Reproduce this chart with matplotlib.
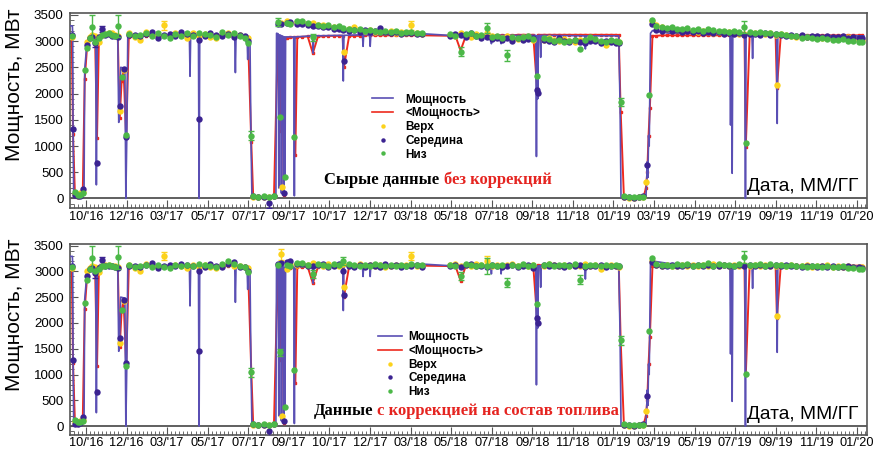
import numpy as np
import matplotlib
matplotlib.use("Agg")
import matplotlib.pyplot as plt
from matplotlib.lines import Line2D
from matplotlib.ticker import MultipleLocator, FixedLocator

plt.rcParams['font.family'] = ['Liberation Sans', 'DejaVu Sans']

n = np.nan

# Axis labels (labelled ticks are evenly spaced in time)
tick_labels = ["10/'16", "12/'16", "03/'17", "05/'17", "07/'17", "09/'17", "10/'17",
               "12/'17", "03/'18", "05/'18", "07/'18", "09/'18", "11/'18", "01/'19",
               "03/'19", "05/'19", "07/'19", "09/'19", "11/'19", "01/'20"]
tick_step = 62.6  # days between labelled ticks

# Measurement days (days after the 10/'16 tick)
day = [-22, -20,
       -17, -13, -9, -5,
       -2, 2, 6,
       10, 14, 17, 20, 25, 30, 35, 40, 45, 49, 52, 55, 58, 62, 66,
       75, 84, 93, 102, 111, 120, 129, 138, 147, 156, 165, 174, 175, 183, 192, 201, 210, 219, 228, 237, 246, 250, 255,
       258, 266, 274, 282, 290,
       296, 299, 301, 303, 305, 307, 310, 315, 321, 323, 326,
       334, 342, 350, 358, 366, 374, 382, 390, 396, 398, 406, 414, 422, 430, 438, 446, 454, 462, 470, 478, 486, 494, 502, 510, 518,
       562, 570, 578, 586, 594, 602, 610, 618, 626, 634, 642, 650, 658, 666, 674, 682, 690, 696, 698, 706,
       714, 722, 730, 738, 746, 754, 762, 770, 778, 786, 794, 802, 810, 818, 822, 825,
       830, 838, 846, 854, 860, 864, 866, 868, 870,
       874, 880, 888, 896, 904, 912, 920, 928, 936, 944, 952, 960, 968, 976, 984, 992, 1000, 1008, 1016, 1018,
       1024, 1032, 1040, 1048, 1056, 1064, 1066, 1072, 1080, 1088, 1096, 1104, 1112, 1120, 1128, 1136, 1144, 1152, 1160, 1168,
       1176, 1184, 1192, 1198]

# <Мощность> (daily average), MW
avg_power = [3080, 1220,
             40, 30, 40, 110,
             2270, 2950, 3080,
             3090, 3080, 1160, 3100, 3100, 3110, 3110, 3110, 3110, 3100, 1530, 2240, 2430, 1160, 3080,
             3090, 3100, 3100, 3100, 3100, 3100, 3100, 3110, 3110, 3110, 3110, 3110, 3110, 3110, 3110, 3110, 3110, 3110, 3100, 3100, 3090, 3080, 1070,
             20, 20, 20, 20, 30,
             3090, 1290, 3080, 3060, 60, 3060, 3060, 3070, 3070, 830, 3080,
             3080, 3090, 2770, 3090, 3090, 3100, 3100, 3100, 3100, 2510, 3100, 3100, 3100, 3110, 3110, 3110, 3110, 3110, 3110, 3110, 3110, 3110, 3110, 3110, 3110,
             3100, 3100, 2820, 3100, 3110, 3110, 3110, 3110, 3110, 3110, 3110, 3110, 3110, 3120, 3120, 3120, 3120, 2100, 3120, 3120,
             3120, 3120, 3120, 3120, 3120, 3120, 3120, 3120, 3120, 3120, 3120, 3120, 3120, 3120, 3110, 1650,
             10, 10, 10, 10, 20, 200, 500, 1200, 1720,
             3100, 3100, 3110, 3110, 3110, 3110, 3110, 3110, 3110, 3110, 3110, 3110, 3110, 3110, 3110, 3110, 3110, 3110, 3110, 985,
             3110, 3110, 3110, 3110, 3110, 3110, 2100, 3110, 3110, 3110, 3110, 3110, 3110, 3110, 3110, 3110, 3110, 3110, 3110, 3110,
             3110, 3110, 3110, 3110]

# Raw data (top panel)
verh_raw = [3080, n,
            90, 50, 100, 120,
            n, 2990, 3080,
            3110, 3090, n, 2980, 3120, 3140, 3160, 3150, 3120, 3100, 1660, n, 2440, n, 3150,
            3080, 3020, 3170, 3120, 3090, 3300, 3110, 3150, 3120, 3060, 3150, 3100, n, 3130, 3080, 3060, 3120, 3160, 3100, 3120, 3080, 3050, n,
            20, 30, 20, 30, 40,
            n, n, 3350, 210, n, n, 3380, 3350, n, n, 3370,
            3360, 3320, 3340, 3300, 3310, 3280, 3260, 3250, 3240, 2800, 3230, 3260, 3210, 3200, 3220, 3180, 3190, 3170, 3200, 3160, 3170, 3150, 3300, 3160, 3140,
            3120, 3090, 3150, 3100, 3080, 3130, 3090, 3150, 3100, 3080, 3050, 3090, 3060, 3040, 3070, 3050, 3030, n, n, 3020,
            3060, 3030, 3000, 3040, 3010, 2990, 3030, 3000, 3050, 3020, 2980, 2930, 3000, 2980, 2990, n,
            20, 10, 10, 20, 30, 320, n, n, n,
            3380, 3300, 3260, 3240, 3230, 3210, 3200, 3220, 3190, 3180, 3200, 3170, 3160, 3180, 3150, 3170, 3150, 3140, 3130, n,
            3160, 3150, 3140, 3130, 3150, 3120, 2160, 3130, 3120, 3100, 3080, 3090, 3070, 3080, 3050, 3060, 3070, 3040, 3060, 3050,
            3080, 3040, 3030, 3030]
mid_raw = [3110, 1330,
           60, 40, 50, 180,
           n, 2920, 3060,
           3080, 2960, 680, 3080, 3230, 3110, 3130, 3100, 3090, 3080, 1770, n, 2470, 1170, 3120,
           3110, 3090, 3130, 3180, 3060, 3120, 3140, 3100, 3170, 3130, 3120, 3020, 1510, 3100, 3150, 3110, 3090, 3140, 3080, 3110, 3090, 3010, n,
           40, 20, 30, -80, 50,
           3330, n, 3320, n, 100, n, 3340, 3360, n, n, 3330,
           3330, 3300, 3290, 3280, 3260, 3270, 3240, 3230, 3220, 2620, 3200, 3210, 3180, 3220, 3170, 3190, 3250, 3180, 3150, 3170, 3140, 3160, 3150, 3140, 3130,
           3090, 3130, 3110, 3070, 3150, 3100, 3060, 3080, 3040, 3050, 3030, 3060, 3000, 3050, 3020, 3040, 3060, 2060, 2010, 3030,
           3000, 2990, 3050, 3010, 2980, 3020, 2990, 2970, 3010, 3000, 2960, 3000, 2980, 2970, 2960, n,
           30, 20, 10, 20, 40, n, 630, n, n,
           3330, 3220, 3200, 3230, 3190, 3210, 3180, 3200, 3170, 3190, 3160, 3180, 3150, 3170, 3140, 3160, 3130, 3150, 3120, n,
           3140, 3130, 3110, 3150, 3120, 3130, n, 3110, 3100, 3120, 3090, 3110, 3080, 3100, 3090, 3070, 3090, 3080, 3070, 3090,
           3060, 3080, 3060, 3050]
niz_raw = [3090, n,
           125, 70, 60, 100,
           2440, 2860, 3050,
           3270, 2990, n, 3050, 3110, 3130, 3150, 3120, 3100, 3290, n, 2310, n, 1210, 3130,
           3100, 3110, 3150, 3100, 3150, 3090, 3060, 3130, 3100, 3160, 3100, 3150, n, 3140, 3120, 3080, 3170, 3110, 3150, 3090, 3060, 2960, 1200,
           50, 30, 40, 30, 50,
           3360, 1550, n, n, n, 400, 3350, 3330, 1180, n, 3380,
           3380, 3340, 3070, 3310, 3290, 3300, 3270, 3280, 3250, n, 3240, 3220, 3230, 3200, 3210, 3190, 3170, 3200, 3180, 3190, 3160, 3170, 3180, 3150, 3150,
           3140, 3100, 2800, 3130, 3150, 3100, 3120, 3250, 3080, 3100, 3060, 2730, 3080, 3050, 3070, 3090, 3040, 2330, n, 3060,
           3040, 3010, 3030, 2980, 3000, 3020, 2850, 3020, 3070, 3040, 3010, 2990, 3030, 3000, 2990, 1840,
           40, 30, 20, 20, 30, n, n, 1980, n,
           3400, 3280, 3270, 3250, 3260, 3240, 3230, 3250, 3220, 3240, 3200, 3230, 3210, 3190, 3200, 3180, 3190, 3170, 3270, 1050,
           3170, 3160, 3180, 3150, 3160, 3140, n, 3140, 3110, 3100, 3090, 3060, 3080, 3050, 3040, 3060, 3040, 3020, 3030, 3040,
           3010, 3000, 2990, 2990]

# Fuel-composition corrected data (bottom panel)
verh_corr = [3060, n,
             80, 60, 100, 110,
             n, 3000, 3070,
             3100, 3080, n, 2990, 3110, 3120, 3130, 3110, 3100, 3090, 1620, n, 2420, n, 3130,
             3060, 3000, 3150, 3110, 3080, 3290, 3100, 3130, 3110, 3060, 3130, 3090, n, 3120, 3080, 3070, 3110, 3140, 3100, 3110, 3090, 3060, n,
             20, 30, 20, 30, 40,
             n, n, 3330, 190, n, n, 3050, 3150, n, n, 3120,
             3150, 3120, 3160, 3130, 3100, 3140, 3120, 3110, 3150, 2690, 3120, 3100, 3140, 3110, 3130, 3100, 3120, 3090, 3110, 3130, 3100, 3120, 3300, 3110, 3100,
             3120, 3140, 3110, 3130, 3100, 3150, 3120, 3200, 3110, 3130, 3100, 3120, 3140, 3110, 3130, 3100, 3120, n, n, 3110,
             3140, 3120, 3100, 3130, 3110, 3120, 3100, 3140, 3110, 3130, 3040, 3100, 3120, 3110, 3090, n,
             20, 10, 10, 20, 30, 290, n, n, n,
             3200, 3130, 3100, 3120, 3110, 3100, 3130, 3110, 3120, 3100, 3130, 3110, 3140, 3100, 3120, 3110, 3130, 3100, 3120, n,
             3110, 3130, 3100, 3120, 3110, 3100, 2140, 3120, 3100, 3130, 3110, 3100, 3120, 3090, 3110, 3100, 3120, 3090, 3110, 3080,
             3100, 3090, 3080, 3080]
mid_corr = [3100, 1290,
            50, 40, 60, 170,
            n, 2900, 3050,
            3060, 2960, 660, 3070, 3210, 3100, 3110, 3100, 3080, 3070, 1710, n, 2440, 1230, 3110,
            3100, 3080, 3120, 3160, 3060, 3110, 3130, 3100, 3150, 3120, 3110, 3010, 1460, 3090, 3140, 3110, 3090, 3150, 3180, 3090, 3080, 3010, n,
            40, 20, 30, -90, 50,
            3150, n, 3170, n, 90, n, 3180, 3200, n, n, 3150,
            3140, 3100, 3110, 3120, 3150, 3080, 3100, 3140, 3000, 2550, 3110, 3090, 3130, 3080, 3120, 3100, 3090, 3150, 3100, 3120, 3080, 3110, 3100, 3120, 3090,
            3100, 3130, 3090, 3120, 3140, 3100, 3110, 3080, 3120, 3100, 3090, 3110, 3130, 3080, 3110, 3120, 3060, 2100, 2000, 3130,
            3100, 3120, 3110, 3090, 3130, 3100, 3120, 3090, 3110, 3100, 3120, 3090, 3110, 3100, 3100, n,
            30, 20, 10, 20, 40, n, 580, n, n,
            3190, 3120, 3110, 3100, 3130, 3110, 3100, 3120, 3110, 3130, 3100, 3120, 3110, 3100, 3130, 3110, 3100, 3120, 3110, n,
            3130, 3100, 3120, 3110, 3100, 3130, n, 3110, 3120, 3100, 3110, 3090, 3100, 3110, 3080, 3100, 3090, 3100, 3080, 3090,
            3100, 3080, 3090, 3070]
niz_corr = [3080, n,
            120, 80, 70, 100,
            2390, 2840, 3040,
            3260, 3000, n, 3050, 3100, 3110, 3120, 3100, 3090, 3270, n, 2250, n, 1160, 3120,
            3090, 3100, 3130, 3090, 3120, 3080, 3060, 3120, 3100, 3130, 3100, 3140, n, 3120, 3110, 3080, 3150, 3200, 3140, 3100, 3080, 2990, 1040,
            50, 30, 40, 30, 50,
            3120, 1430, n, n, n, 370, 3130, 3110, 1090, n, 3160,
            3170, 3130, 2950, 3140, 3120, 3110, 3150, 3130, 3200, n, 3140, 3120, 3100, 3130, 3110, 3140, 3120, 3110, 3130, 3100, 3120, 3110, 3140, 3130, 3120,
            3130, 3110, 2910, 3140, 3120, 3100, 3130, 3100, 3120, 3110, 3130, 2780, 3120, 3100, 3140, 3110, 3120, 2370, n, 3120,
            3140, 3110, 3130, 3120, 3100, 3140, 2840, 3110, 3130, 3120, 3100, 3130, 3110, 3120, 3100, 1660,
            40, 30, 20, 20, 30, n, n, 1850, n,
            3250, 3140, 3120, 3130, 3110, 3140, 3120, 3150, 3110, 3130, 3120, 3160, 3110, 3140, 3120, 3130, 3110, 3150, 3280, 1010,
            3130, 3120, 3150, 3110, 3140, 3120, n, 3130, 3110, 3120, 3100, 3110, 3090, 3100, 3110, 3080, 3100, 3090, 3080, 3100,
            3070, 3060, 3050, 3040]

# Large error bars (day -> MW)
raw_err = {'verh': {120: 80, 502: 80},
           'mid': {14: 80, 25: 60, 282: 100},
           'niz': {10: 230, 49: 210, 255: 90, 296: 80, 350: 60, 578: 80, 618: 90, 650: 100, 825: 80, 1016: 110}}
corr_err = {'verh': {120: 80, 301: 110, 502: 80, 618: 90},
            'mid': {14: 80, 25: 60, 282: 100},
            'niz': {10: 230, 49: 230, 255: 90, 299: 70, 350: 70, 396: 80, 578: 80, 618: 150, 650: 90, 762: 80, 825: 80, 1016: 110}}

# Мощность (thermal power), MW
pw_day = [-25, -21, -20.5, -20, -19, -15, -11, -7, -4, -3, -2, 1, 4, 8, 12, 15, 16, 17.5, 22, 30, 40, 49,
          50.5, 52, 53.5, 60, 61.5, 63, 64.5, 75, 100, 130, 159.5, 160.5, 161.5, 173.5, 174.5, 175.5, 200,
          229.5, 230.5, 231.5, 248.5, 249.5, 250.5, 253, 254.5, 256, 265, 280, 293, 294, 296.5, 297.5, 298.5,
          300.5, 301.5, 302.5, 304, 305, 306, 307, 308, 320.5, 321.5, 322.5, 335, 349.5, 350.5, 351.5, 396, 397,
          398, 426.5, 427.5, 428.5, 437.5, 438.5, 439.5, 470, 520, 540, 560, 580, 624.5, 625.5, 626.5, 639.5,
          640.5, 641.5, 694, 695, 696, 697, 698, 700.5, 701.5, 702.5, 769.5, 770.5, 771.5, 822, 824, 825.5, 840,
          860, 864, 865, 866, 867, 868, 869, 870, 871, 874, 900, 993.5, 994.5, 995.5, 996, 997, 998, 1016.5,
          1017.5, 1018.5, 1027.5, 1028.5, 1029.5, 1065.5, 1066.5, 1067.5, 1200]
pw_mw = [3290, 3290, 3110, 1330, 90, 60, 40, 50, 150, 180, 2450, 2900, 3060, 3090, 3100, 2950, 260, 3100, 3110, 3120, 3110, 3110,
         1450, 1770, 2500, 2480, 0, 1200, 3130, 3110, 3120, 3110, 3110, 2330, 3110, 3100, 0, 3100, 3110,
         3100, 2400, 3100, 3080, 2650, 3070, 3050, 1200, 30, 20, 30, 30, 3150, 3140, 200, 3120,
         3110, 100, 3100, 3090, 60, 3080, 400, 3080, 3080, 50, 3080, 3090, 3100, 2770, 3100, 3110, 2240,
         3110, 3120, 2900, 3120, 3120, 2900, 3120, 3130, 3140, 3125, 3110, 3120, 3110, 2950, 3110, 3110,
         2950, 3110, 3110, 800, 3100, 1900, 3110, 3110, 2690, 3110, 3100, 2850, 3100, 3100, 1800, 10, 10,
         20, 50, 300, 700, 400, 1200, 1000, 2000, 3150, 3200, 3150, 3140, 1400, 3140, 3140, 480, 3140, 3130,
         0, 3120, 3120, 2670, 3120, 3110, 1430, 3110, 3100]

PURPLE_LINE = '#5a4fb4'
INDIGO = '#3b2391'
YELLOW = '#fcd21c'
GREEN = '#4cb848'
RED = '#ee2a1e'
FRAME = '#555555'


def draw_panel(ax, verh, mid, niz, errs, leg_xy, leg_hl, leg_pad, cap_black, cap_red, cap_x, cap_y, lab_pad):
    ax.plot(day, avg_power, color=RED, lw=1.4, marker='s', ms=1.8, zorder=2)
    ax.plot(pw_day, pw_mw, color=PURPLE_LINE, lw=1.2, zorder=3)
    for vals, col, z, key in ((verh, YELLOW, 4, 'verh'), (mid, INDIGO, 5, 'mid'), (niz, GREEN, 6, 'niz')):
        ax.plot(day, vals, 'o', color=col, ms=4.6, mec='none', zorder=z)
        ex = list(errs[key].keys())
        ey = [vals[day.index(d)] for d in ex]
        ax.errorbar(ex, ey, yerr=list(errs[key].values()), fmt='none', ecolor=col,
                    elinewidth=1.0, capsize=2, zorder=z)
    ax.axhline(0, color='#444444', lw=1.2, zorder=1.5)

    ax.set_xlim(-24.7, 1205)
    ax.set_ylim(-182, 3530)
    ax.xaxis.set_major_locator(FixedLocator([tick_step * k for k in range(len(tick_labels))]))
    ax.set_xticklabels(tick_labels)
    ax.xaxis.set_minor_locator(MultipleLocator(tick_step / 10))
    ax.yaxis.set_major_locator(MultipleLocator(500))
    ax.yaxis.set_minor_locator(MultipleLocator(100))
    ax.tick_params(axis='x', which='both', direction='in', top=False, labelsize=9.2, pad=lab_pad, color=FRAME)
    ax.tick_params(axis='y', which='both', direction='in', right=False, labelsize=9.6, pad=4.5, color=FRAME)
    ax.tick_params(which='major', length=6)
    ax.tick_params(which='minor', length=3)
    for s in ax.spines.values():
        s.set_color(FRAME)
        s.set_linewidth(1.2)

    ax.set_ylabel('Мощность, МВт', fontsize=15, loc='top')
    ax.yaxis.set_label_coords(-0.058, 1.027)
    ax.text(0.989, 0.088, 'Дата, ММ/ГГ', transform=ax.transAxes, ha='right', va='baseline', fontsize=13.8)

    handles = [Line2D([], [], color=PURPLE_LINE, lw=1.2),
               Line2D([], [], color=RED, lw=1.2),
               Line2D([], [], ls='none', marker='o', color=YELLOW, ms=3.2, mec='none'),
               Line2D([], [], ls='none', marker='o', color=INDIGO, ms=3.2, mec='none'),
               Line2D([], [], ls='none', marker='o', color=GREEN, ms=3.2, mec='none')]
    labels = ['Мощность', '<Мощность>', 'Верх', 'Середина', 'Низ']
    ax.legend(handles, labels, loc='upper left', bbox_to_anchor=leg_xy, frameon=False,
              prop={'weight': 'bold', 'size': 8.5}, handlelength=leg_hl, handletextpad=leg_pad,
              labelspacing=0.15, borderpad=0, borderaxespad=0)

    serif = dict(family=['Liberation Serif', 'DejaVu Serif'], weight='bold', fontsize=12,
                 transform=ax.transAxes, va='baseline')
    ax.text(cap_x[0], cap_y, cap_black, ha='right', color='black', **serif)
    ax.text(cap_x[1], cap_y, cap_red, ha='left', color='#e52420', **serif)


fig = plt.figure(figsize=(8.76, 4.51), dpi=100)
ax_top = fig.add_axes([0.0799, 0.5388, 0.9098, 0.4317])
ax_bot = fig.add_axes([0.0799, 0.0344, 0.9098, 0.4246])

draw_panel(ax_top, verh_raw, mid_raw, niz_raw, raw_err, (0.379, 0.588), 1.8, 1.0,
           'Сырые данные', 'без коррекций', (0.4634, 0.469), 0.123, 2.5)
draw_panel(ax_bot, verh_corr, mid_corr, niz_corr, corr_err, (0.386, 0.545), 2.1, 0.5,
           'Данные', 'с коррекцией на состав топлива', (0.3806, 0.3858), 0.106, 1.2)

fig.savefig('out.png', dpi=100)
